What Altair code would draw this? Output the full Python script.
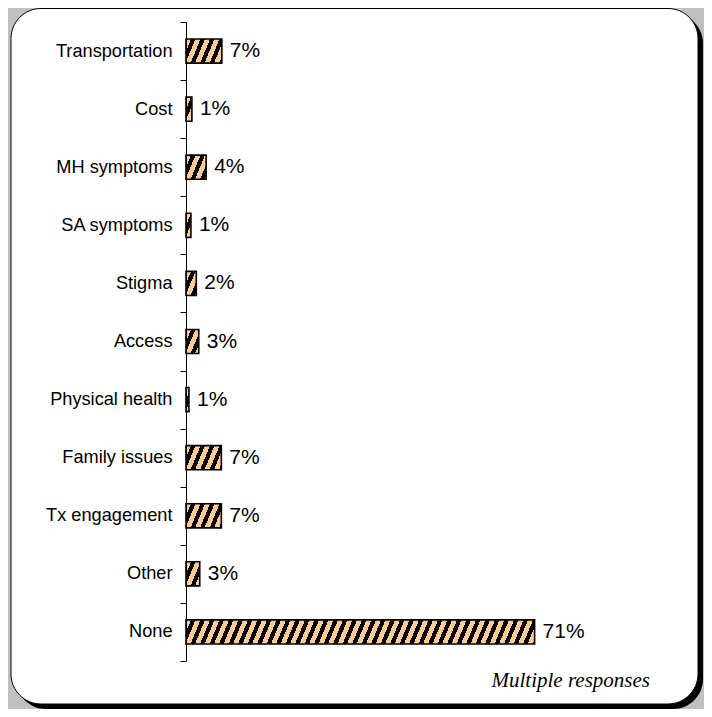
import altair as alt
import pandas as pd

# ---- data ----
categories = ["Transportation", "Cost", "MH symptoms", "SA symptoms", "Stigma", "Access",
              "Physical health", "Family issues", "Tx engagement", "Other", "None"]
values = [7.3, 1.2, 4.1, 1.0, 2.1, 2.6, 0.6, 7.2, 7.2, 2.8, 71.0]
labels = ["7%", "1%", "4%", "1%", "2%", "3%", "1%", "7%", "7%", "3%", "71%"]
note_text = "Multiple responses"

df = pd.DataFrame({"cat": categories, "val": values, "lab": labels})

# ---- layout / style ----
PLOT_W, PLOT_H = 491, 639
X_MAX = 100
PX_PER = PLOT_W / X_MAX
BAR_FRAC = 0.415
SLANT = 10.0
PERIOD = 9.5
BLACK_FRAC = 0.47
ORANGE = "#FFCC99"


def hatch(width_px):
    W = max(width_px, 0.5)
    r = SLANT / W
    a = (1 + r) / (1 + r * r)
    dt = PERIOD / (W + SLANT)
    stops = []
    t = 0.0
    while t < 1:
        t1 = min(t + dt * (1 - BLACK_FRAC), 1.0)
        t2 = min(t + dt, 1.0)
        stops += [(t, ORANGE), (t1, ORANGE), (t1, "black"), (t2, "black")]
        t += dt
    return alt.LinearGradient(
        gradient="linear",
        stops=[alt.GradientStop(color=c, offset=round(o, 5)) for o, c in stops],
        x1=0, y1=0, x2=round(a, 5), y2=round(a * r, 5),
    )


y_enc = alt.Y(
    "cat:N", sort=categories, title=None,
    scale=alt.Scale(domain=categories, paddingInner=0, paddingOuter=0),
    axis=alt.Axis(domainColor="black", domainWidth=1, tickColor="black", tickWidth=1,
                  tickSize=6, tickBand="extent", labelFont="Liberation Sans",
                  labelFontSize=18.2, labelColor="black", labelPadding=8, labelLimit=300,
                  zindex=1, title=None),
)
x_enc = alt.X("val:Q", scale=alt.Scale(domain=[0, X_MAX]), axis=None)

one = pd.DataFrame({"d": [0]})
shadow = alt.Chart(one).mark_rect(cornerRadius=30, fill="black").encode(
    x=alt.value(-170), x2=alt.value(517), y=alt.value(-8.5), y2=alt.value(687))
panel = alt.Chart(one).mark_rect(cornerRadius=30, fill="white", stroke="black", strokeWidth=1).encode(
    x=alt.value(-175), x2=alt.value(512), y=alt.value(-13.5), y2=alt.value(682))

bars = []
for c, v in zip(categories, values):
    bars.append(
        alt.Chart(df).transform_filter(alt.datum.cat == c)
        .mark_bar(fill=hatch(v * PX_PER), stroke="black", strokeWidth=1.6,
                  height=alt.RelativeBandSize(band=BAR_FRAC))
        .encode(x=x_enc, y=y_enc)
    )

texts = alt.Chart(df).mark_text(align="left", baseline="middle", dx=8, fontSize=21,
                                font="Liberation Sans", color="black").encode(
    x=x_enc, y=y_enc, text="lab:N")

note = alt.Chart(one).mark_text(text=note_text, font="Liberation Serif", fontStyle="italic",
                                fontSize=21, align="right", baseline="alphabetic",
                                color="black").encode(x=alt.value(464), y=alt.value(665))

chart = alt.layer(shadow, panel, *bars, texts, note).properties(
    width=PLOT_W, height=PLOT_H,
    padding={"left": 178, "top": 14, "right": 27, "bottom": 48},
    autosize=alt.AutoSizeParams(type="none"),
    background="#C0C0C0",
).configure_view(strokeWidth=0)

chart.save("out.html", embed_options={"renderer": "svg", "actions": False})
